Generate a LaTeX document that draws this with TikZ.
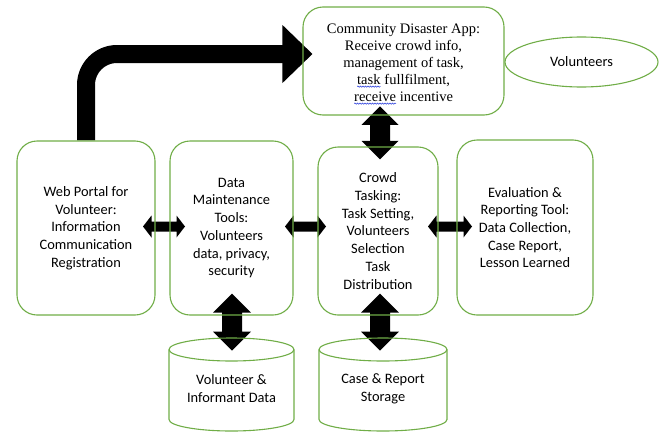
\documentclass[tikz,border=0pt]{standalone}
\usepackage{fontspec}
\setmainfont{Carlito}
\newfontfamily\serifapp{Liberation Serif}
\usetikzlibrary{calc,shapes.geometric,decorations.pathmorphing}
\definecolor{boxgreen}{RGB}{112,173,71}
\definecolor{spellblue}{RGB}{40,60,220}
\pgfdeclarelayer{bg}
\pgfsetlayers{bg,main}
\newcommand\spell[1]{\tikz[baseline=(sw.base), x=1pt, y=1pt]{\node[inner sep=0pt, outer sep=0pt, align=left] (sw) {#1}; \draw[spellblue, line width=0.5pt, decorate, decoration={snake, amplitude=0.7pt, segment length=2.5pt}] ($(sw.base west)+(0,-2.5)$) -- ($(sw.base east)+(0,-2.5)$);}}
% horizontal double fat arrow: #1 centre, #2 half length, #3 shaft half, #4 head half, #5 head length
\newcommand\hfat[5]{\fill[fatarrow] ($(#1)+(-#2,0)$) -- ++(#5,-#4) -- ++(0,{#4-#3}) -- ++({2*#2-2*#5},0) -- ++(0,{#3-#4}) -- ++(#5,#4) -- ++(-#5,#4) -- ++(0,{#3-#4}) -- ++({-2*#2+2*#5},0) -- ++(0,{#4-#3}) -- cycle;}
\newcommand\vfat[5]{\fill[fatarrow] ($(#1)+(0,-#2)$) -- ++(-#4,#5) -- ++({#4-#3},0) -- ++(0,{2*#2-2*#5}) -- ++({#3-#4},0) -- ++(#4,#5) -- ++(#4,-#5) -- ++({#3-#4},0) -- ++(0,{-2*#2+2*#5}) -- ++({#4-#3},0) -- cycle;}
\newcommand\cylshape[2]{%
  \draw[cyl] ($(#1)+(-#2,-39)$) -- ($(#1)+(-#2,31)$) arc[start angle=180, end angle=0, x radius=#2, y radius=11.5] -- ($(#1)+(#2,-39)$);
  \draw[cyl] ($(#1)+(0,-39)$) ellipse[x radius=#2, y radius=11.5];}
\tikzset{
  box/.style={draw=boxgreen, line width=1.1pt, rounded corners=20pt, inner sep=0pt},
  sanstext/.style={align=center, inner sep=0pt, font=\fontsize{14.4}{17.7}\selectfont},
  apptext/.style={align=center, inner sep=0pt, font=\serifapp\fontsize{14.5}{17}\selectfont},
  cyl/.style={draw=boxgreen, line width=1.1pt},
  fatarrow/.style={fill=black},
}
\begin{document}
\begin{tikzpicture}[x=1pt,y=-1pt]
\useasboundingbox (0,0) rectangle (663,431);
\node[box, minimum width=138pt, minimum height=174pt, sanstext] (web) at (86,228) {Web Portal for\\Volunteer:\\Information\\Communication\\Registration};
\node[box, minimum width=123pt, minimum height=174pt, sanstext] (data) at (231.5,228) {Data\\Maintenance\\Tools:\\Volunteers\\data, privacy,\\security};
\node[box, minimum width=120pt, minimum height=168pt, sanstext] (crowd) at (378,231) {Crowd\\Tasking:\\Task Setting,\\Volunteers\\Selection\\Task\\Distribution};
\node[box, minimum width=136pt, minimum height=175pt, sanstext] (eval) at (525,227.5) {Evaluation \&\\Reporting Tool:\\Data Collection,\\Case Report,\\Lesson Learned};
\node[box, minimum width=201pt, minimum height=108pt] (app) at (403.5,61) {};
\node[apptext] (apptxt) at ($(app)+(0,3)$) {Community Disaster App:\\Receive crowd info,\\management of task,\\\spell{task} fullfilment,\\\spell{receive} incentive};
\node[draw=boxgreen, line width=1.1pt, ellipse, minimum width=153pt, minimum height=50pt, inner sep=0pt, sanstext] (vol) at (581.5,62) {Volunteers};
\node[sanstext] (vdb) at (231.5,388.5) {Volunteer \&\\Informant Data};
\node[sanstext] (cdb) at (383,388.5) {Case \& Report\\Storage};
\cylshape{vdb}{62.5}
\cylshape{cdb}{64}
\begin{pgfonlayer}{bg}
\coordinate (a1) at ($(web.east)!0.5!(data.west)+(1.5,-1.5)$);
\coordinate (a2) at ($(data.east)!0.5!(crowd.west)+(0,-3)$);
\coordinate (a3) at ($(crowd.east)!0.5!(eval.west)+(2.5,-2.75)$);
\hfat{a1}{21}{5}{11}{8.5}
\hfat{a2}{20.5}{5}{11}{8.5}
\hfat{a3}{22}{5}{11}{8.5}
\coordinate (v1) at ($(crowd.north)+(2,-13.5)$);
\coordinate (v2) at ($(data.south)+(0.5,6.5)$);
\coordinate (v3) at ($(crowd.south)+(2,6.5)$);
\vfat{v1}{26.5}{10}{18.5}{18.5}
\vfat{v2}{28.5}{10}{19}{19}
\vfat{v3}{28.5}{10}{19}{19}
\coordinate (tip) at ($(app.west)+(10,-7)$);
\coordinate (hb) at ($(tip)+(-29,0)$);
\draw[line width=18pt, rounded corners=31pt] (web.north) |- (hb);
\fill[fatarrow] (tip) -- ++(-30,-29) -- ++(0,58) -- cycle;
\end{pgfonlayer}
\end{tikzpicture}
\end{document}
